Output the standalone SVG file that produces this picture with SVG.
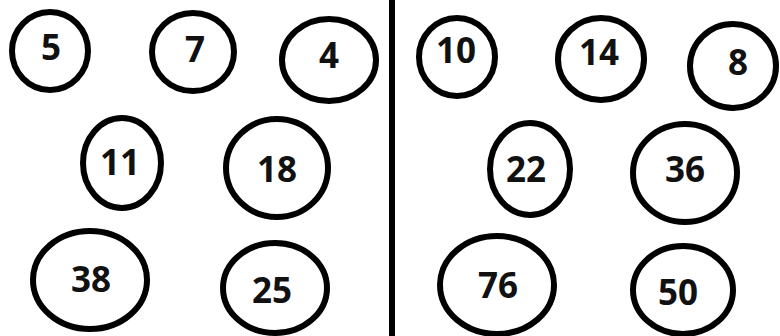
<svg xmlns="http://www.w3.org/2000/svg" width="780" height="336" viewBox="0 0 780 336">
<style>
.c{fill:#fff;stroke:#000;stroke-width:6}
.t{font-family:"Open Sans","Liberation Sans",sans-serif;font-weight:bold;font-size:35px;fill:#111;text-anchor:middle}
</style>
<rect width="780" height="336" fill="#fff"/>
<g id="divider"><line x1="392" y1="0" x2="392" y2="336" stroke="#000" stroke-width="6"/></g>
<g id="n5"><ellipse class="c" cx="50" cy="51" rx="38" ry="39"/><text class="t" x="51" y="60">5</text></g>
<g id="n7"><ellipse class="c" cx="193" cy="52" rx="41" ry="39"/><text class="t" x="195" y="62">7</text></g>
<g id="n4"><ellipse class="c" cx="329" cy="60" rx="47" ry="41"/><text class="t" x="329" y="68">4</text></g>
<g id="n10"><ellipse class="c" cx="457" cy="57" rx="38" ry="39"/><text class="t" x="456" y="63">10</text></g>
<g id="n14"><ellipse class="c" cx="601" cy="59" rx="43" ry="41"/><text class="t" x="599" y="65">14</text></g>
<g id="n8"><ellipse class="c" cx="733" cy="66" rx="43" ry="42"/><text class="t" x="738" y="75">8</text></g>
<g id="n11"><ellipse class="c" cx="122" cy="163" rx="39" ry="45"/><text class="t" x="120" y="175">11</text></g>
<g id="n18"><ellipse class="c" cx="277" cy="168" rx="51" ry="49"/><text class="t" x="277" y="182">18</text></g>
<g id="n38"><ellipse class="c" cx="90" cy="280" rx="57" ry="49"/><text class="t" x="91" y="292">38</text></g>
<g id="n25"><ellipse class="c" cx="275" cy="288" rx="52" ry="45"/><text class="t" x="272" y="303">25</text></g>
<g id="n22"><ellipse class="c" cx="530" cy="169" rx="40" ry="46"/><text class="t" x="526" y="182">22</text></g>
<g id="n36"><ellipse class="c" cx="685" cy="173" rx="52" ry="49"/><text class="t" x="685" y="182">36</text></g>
<g id="n76"><ellipse class="c" cx="497" cy="285" rx="57" ry="49"/><text class="t" x="498" y="298">76</text></g>
<g id="n50"><ellipse class="c" cx="683" cy="290" rx="50" ry="44"/><text class="t" x="678" y="305">50</text></g>
<g id="connectors"/>
</svg>
